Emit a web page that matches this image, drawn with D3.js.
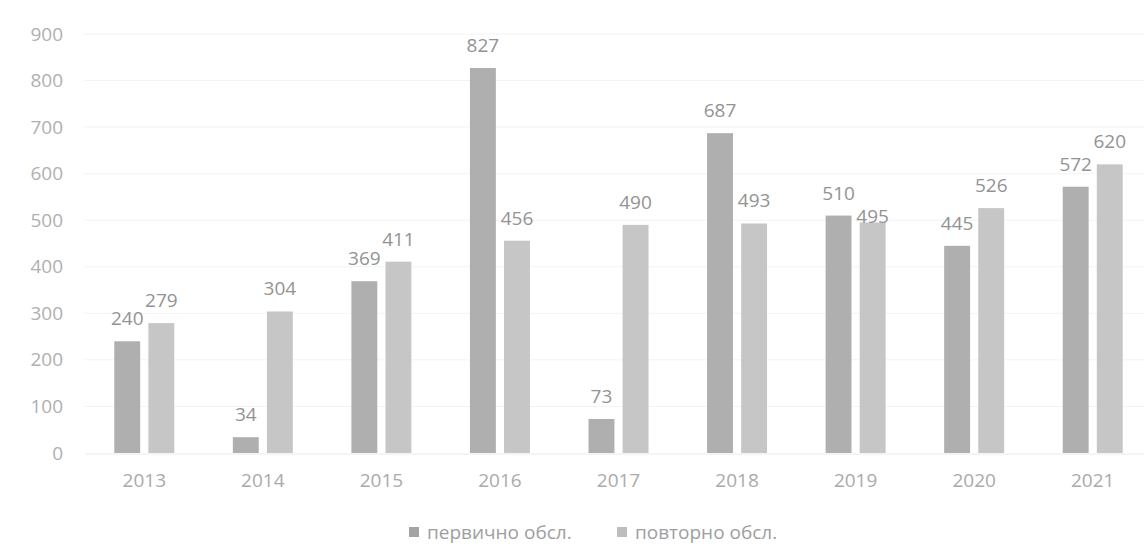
<!DOCTYPE html>
<html><head><meta charset="utf-8">
<script src="https://cdn.jsdelivr.net/npm/d3@7"></script>
<style>body{margin:0;background:#fff}svg{display:block;font-family:"Open Sans",sans-serif}</style>
</head><body><svg id="c" width="1144" height="547"></svg>
<script>
const years = ["2013","2014","2015","2016","2017","2018","2019","2020","2021"];
const seriesNames = ["первично обсл.", "повторно обсл."];
const primary = [240, 34, 369, 827, 73, 687, 510, 445, 572];
const repeat = [279, 304, 411, 456, 490, 493, 495, 526, 620];
const yTicks = [0,100,200,300,400,500,600,700,800,900];

const svg = d3.select("#c");
const colors = ["#afafaf", "#c6c6c6"];
const x = d3.scaleBand().domain(years).range([85, 1152]).paddingInner(0).paddingOuter(0);
const xs = d3.scaleBand().domain([0,1]).range([x.bandwidth()/2 - 30, x.bandwidth()/2 + 30]).paddingInner(0.24);
const y = d3.scaleLinear().domain([0, 900]).range([453, 34]);

// grid
svg.append("g").selectAll("line").data(yTicks.slice(1)).join("line")
  .attr("x1", 85).attr("x2", 1144).attr("y1", d=>y(d)).attr("y2", d=>y(d))
  .attr("stroke", "#f3f3f3").attr("stroke-width", 1);
svg.append("line").attr("x1",85).attr("x2",1144).attr("y1",y(0)+1).attr("y2",y(0)+1).attr("stroke","#eaeaea");

// y axis
const ya = svg.append("g").attr("transform","translate(63,0)")
  .call(d3.axisLeft(y).tickValues(yTicks).tickSize(0).tickPadding(0));
ya.select(".domain").remove();
ya.selectAll("text").attr("fill","#b0b0b0").style("font-size","19px").style("font-family","Open Sans");

// x axis
const xa = svg.append("g").attr("transform","translate(0,468)")
  .call(d3.axisBottom(x).tickSize(0).tickPadding(5));
xa.select(".domain").remove();
xa.selectAll("text").attr("fill","#aaaaaa").style("font-size","19px").style("font-family","Open Sans");

const data = [primary, repeat];
data.forEach((vals, si) => {
  const g = svg.append("g");
  g.selectAll("rect").data(vals).join("rect")
    .attr("x", (d,i)=>x(years[i]) + xs(si))
    .attr("width", xs.bandwidth())
    .attr("y", d=>y(d))
    .attr("height", d=>y(0)-y(d))
    .attr("fill", colors[si]);
  g.selectAll("text").data(vals).join("text")
    .attr("x", (d,i)=>x(years[i]) + xs(si) + xs.bandwidth()/2)
    .attr("y", (d,i)=> y(d) - ((si===1 && years[i]==="2019") ? 0 : 16))
    .attr("text-anchor","middle")
    .attr("fill","#939393").style("font-size","19px")
    .text(d=>d);
});

// legend
const leg = svg.append("g").attr("transform","translate(0,532)");
const lx = [409, 617];
seriesNames.forEach((n,i)=>{
  leg.append("rect").attr("x", lx[i]).attr("y",-5).attr("width",10).attr("height",10).attr("fill", i===0?"#a4a4a4":"#bdbdbd");
  leg.append("text").attr("x", lx[i]+18).attr("y",7).attr("fill","#9e9e9e").style("font-size","19px").text(n);
});
</script></body></html>
